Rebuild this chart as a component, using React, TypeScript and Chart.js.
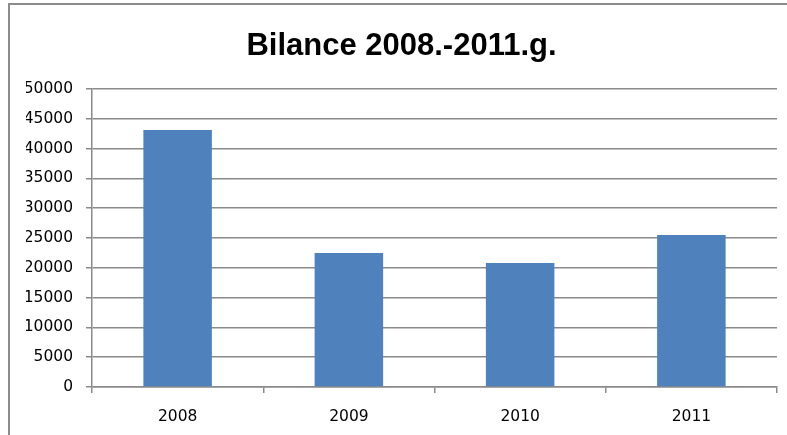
import React, { useEffect, useRef } from "react";
import { Chart, registerables } from "chart.js";

Chart.register(...registerables);

const categories = ["2008", "2009", "2010", "2011"];
const values = [43100, 22500, 20800, 25500];
const titleText = "Bilance 2008.-2011.g.";
const yMin = 0;
const yMax = 50000;
const yStep = 5000;

export default function App() {
  const ref = useRef<HTMLCanvasElement | null>(null);

  useEffect(() => {
    document.body.style.margin = "0";
    const canvas = ref.current;
    if (!canvas) return;
    const tickFont = { family: "'DejaVu Sans', sans-serif", size: 15.5 };
    const lineColor = "#8a8a8a";
    const chart = new Chart(canvas, {
      type: "bar",
      data: {
        labels: categories,
        datasets: [
          {
            data: values,
            backgroundColor: "#4F81BD",
            borderWidth: 0,
            barPercentage: 0.4,
            categoryPercentage: 1.0,
          },
        ],
      },
      options: {
        animation: false,
        responsive: true,
        maintainAspectRatio: false,
        layout: { padding: { left: 26, right: 10, top: 0, bottom: 0 } },
        plugins: {
          legend: { display: false },
          tooltip: { enabled: false },
          title: {
            display: true,
            text: titleText,
            color: "#000000",
            font: {
              family: "'Liberation Sans Narrow', 'Liberation Sans', sans-serif",
              size: 31,
              weight: "bold",
              lineHeight: 1.2,
            },
            padding: { top: 28, bottom: 23.8 },
          },
        },
        scales: {
          x: {
            grid: {
              display: true,
              drawOnChartArea: false,
              drawTicks: true,
              tickLength: 6,
              offset: true,
              color: lineColor,
              lineWidth: 1.5,
            },
            border: { display: true, color: lineColor, width: 1.5 },
            ticks: { color: "#000000", font: tickFont, padding: 15 },
            afterFit: (scale: any) => {
              scale.height = 48;
            },
          },
          y: {
            min: yMin,
            max: yMax,
            grid: { color: lineColor, tickLength: 6, lineWidth: 1.5 },
            border: { display: true, color: lineColor, width: 1.5 },
            ticks: {
              stepSize: yStep,
              color: "#000000",
              font: tickFont,
              padding: 13,
              callback: (v: any) => String(v),
            },
            afterFit: (scale: any) => {
              scale.width = 66;
            },
          },
        },
      },
    });
    return () => chart.destroy();
  }, []);

  return (
    <div style={{ position: "relative", width: 787, height: 435, background: "#ffffff" }}>
      <canvas ref={ref} />
      <div
        style={{
          position: "absolute",
          left: 8,
          top: 3,
          right: 0,
          bottom: 0,
          borderLeft: "2px solid #8c8c8c",
          borderTop: "2px solid #8c8c8c",
          pointerEvents: "none",
        }}
      />
    </div>
  );
}
